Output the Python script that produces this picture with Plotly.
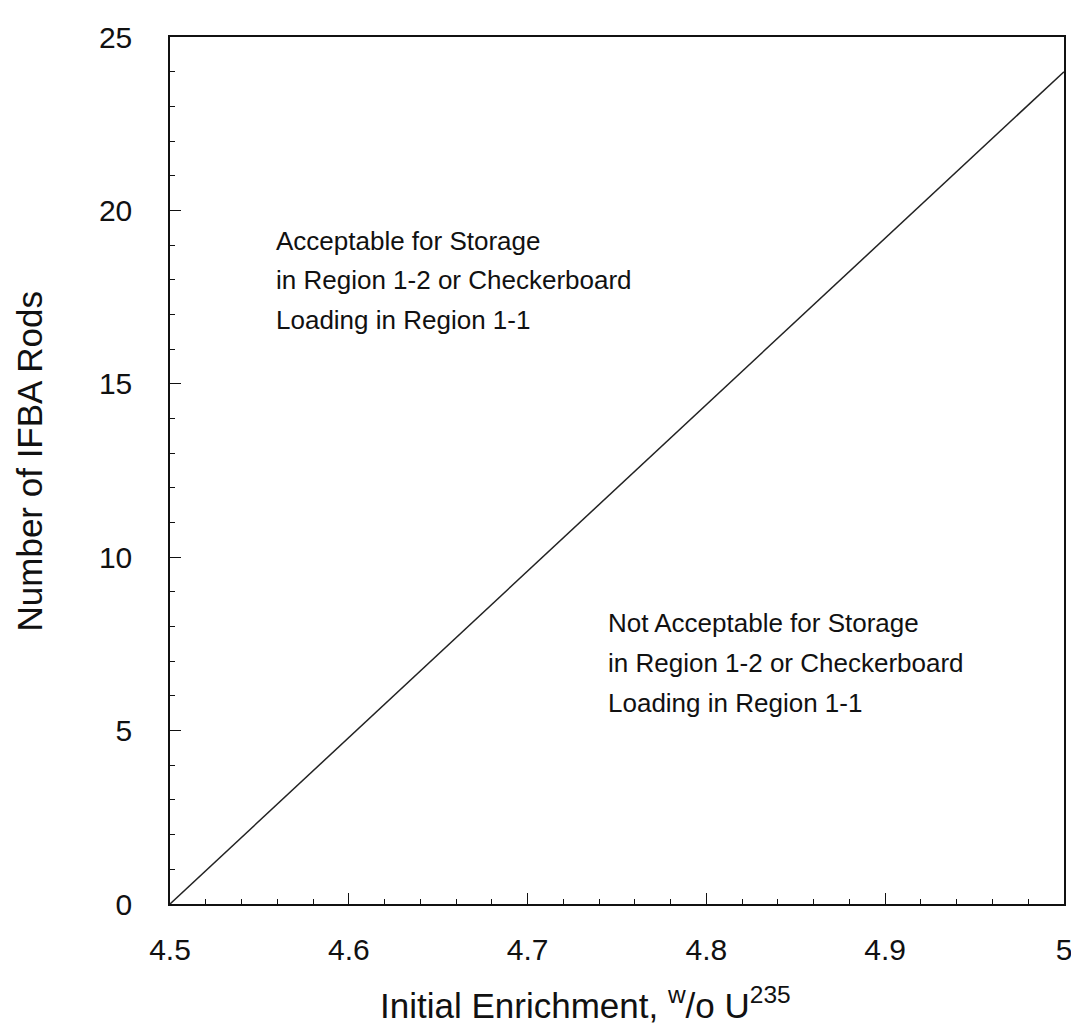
import plotly.graph_objects as go

enrichment = [4.5, 5.0]
ifba_rods = [0, 24]
x_ticks = [4.5, 4.6, 4.7, 4.8, 4.9, 5.0]
x_tick_labels = ["4.5", "4.6", "4.7", "4.8", "4.9", "5"]
y_ticks = [0, 5, 10, 15, 20, 25]
accept_lines = ["Acceptable for Storage", "in Region 1-2 or Checkerboard", "Loading in Region 1-1"]
accept_x = 4.5582
accept_y = [19.13, 17.99, 16.85]
not_lines = ["Not Acceptable for Storage", "in Region 1-2 or Checkerboard", "Loading in Region 1-1"]
not_x = 4.7438
not_y = [8.09, 6.95, 5.81]
x_title = "Initial Enrichment, <sup>w</sup>/o U<sup>235</sup>"
y_title = "Number of IFBA Rods"

FONT = "Liberation Sans, Arial, Helvetica"
INK = "#111111"

fig = go.Figure()
fig.add_trace(go.Scatter(x=enrichment, y=ifba_rods, mode="lines",
                         line=dict(color="#222222", width=1.5), showlegend=False))

for txt, yy in zip(accept_lines, accept_y):
    fig.add_annotation(x=accept_x, y=yy, text=txt, showarrow=False,
                       xanchor="left", yanchor="middle", align="left",
                       font=dict(family=FONT, size=26, color=INK))
for txt, yy in zip(not_lines, not_y):
    fig.add_annotation(x=not_x, y=yy, text=txt, showarrow=False,
                       xanchor="left", yanchor="middle", align="left",
                       font=dict(family=FONT, size=26, color=INK))

# axis titles as paper-positioned annotations
fig.add_annotation(x=0.4653, y=-0.1139, xref="paper", yref="paper", text=x_title,
                   showarrow=False, xanchor="center", yanchor="middle",
                   font=dict(family=FONT, size=35, color=INK))
fig.add_annotation(x=-0.157, y=0.510, xref="paper", yref="paper", text=y_title,
                   showarrow=False, xanchor="center", yanchor="middle", textangle=-90,
                   borderpad=0,
                   font=dict(family=FONT, size=35, color=INK))

axis_common = dict(showline=True, linecolor=INK, linewidth=1.5, mirror=True,
                   showgrid=False, zeroline=False, ticks="inside", tickcolor=INK,
                   ticklen=11, tickwidth=1,
                   tickfont=dict(family=FONT, size=30, color=INK))

fig.update_xaxes(range=[4.5, 5.0], tickvals=x_ticks, ticktext=x_tick_labels,
                 ticklabelstandoff=18,
                 minor=dict(dtick=0.02, ticks="inside", ticklen=5, tickcolor=INK, tickwidth=1, showgrid=False),
                 **axis_common)
fig.update_yaxes(range=[0, 25], tickvals=y_ticks, ticklabelstandoff=30,
                 minor=dict(dtick=1, ticks="inside", ticklen=5, tickcolor=INK, tickwidth=1, showgrid=False),
                 **axis_common)

fig.update_layout(width=1079, height=1028, plot_bgcolor="white", paper_bgcolor="white",
                  margin=dict(l=162, r=23, t=18, b=132))

fig.write_html("out.html")
